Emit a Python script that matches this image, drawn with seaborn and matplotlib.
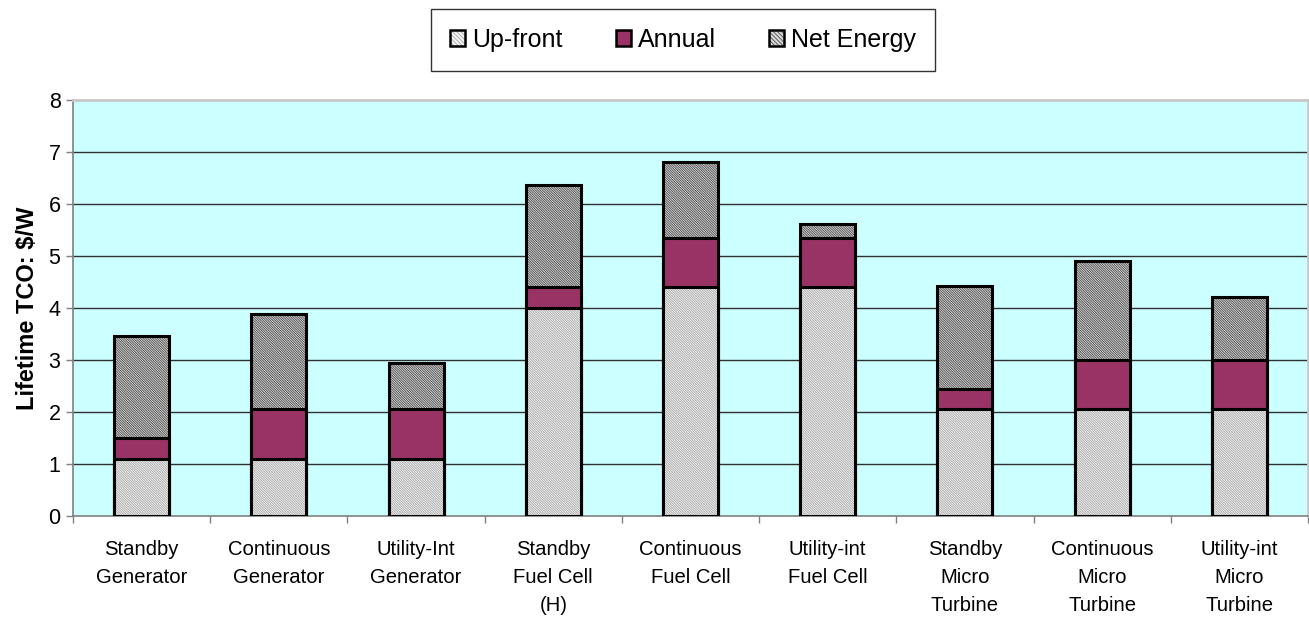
import matplotlib
matplotlib.use("Agg")
import matplotlib.pyplot as plt
import matplotlib.colors as mcolors
import seaborn as sns
import numpy as np
from matplotlib.patches import Patch
from matplotlib.ticker import FixedLocator

categories = ["Standby\nGenerator", "Continuous\nGenerator", "Utility-Int\nGenerator",
              "Standby\nFuel Cell\n(H)", "Continuous\nFuel Cell", "Utility-int\nFuel Cell",
              "Standby\nMicro\nTurbine", "Continuous\nMicro\nTurbine", "Utility-int\nMicro\nTurbine"]
upfront = [1.1, 1.1, 1.1, 4.0, 4.4, 4.4, 2.05, 2.05, 2.05]
annual = [0.4, 0.95, 0.95, 0.4, 0.95, 0.95, 0.4, 0.95, 0.95]
net_energy = [1.97, 1.83, 0.9, 1.97, 1.45, 0.26, 1.97, 1.9, 1.22]
series_names = ["Up-front", "Annual", "Net Energy"]

sns.set_theme(style="white")
plt.rcParams['font.family'] = ['Liberation Sans', 'DejaVu Sans']
plt.rcParams['text.color'] = 'black'
plt.rcParams['axes.labelcolor'] = 'black'

fig = plt.figure(figsize=(13.09, 6.22), dpi=100)
ax = fig.add_axes([73/1309, 1-516/622, (1308-73)/1309, (516-100)/622])
ax.set_facecolor("#CCFFFF")

cum1 = np.array(upfront)
cum2 = cum1 + np.array(annual)
cum3 = cum2 + np.array(net_energy)

HATCH = "\\" * 14
styles = [
    (cum3, "#d6d6d6", HATCH, "#505050"),
    (cum2, "#993366", None, None),
    (cum1, "#f4f4f4", HATCH, "#a8a8a8"),
]
plt.rcParams['hatch.linewidth'] = 0.6
for heights, face, hatch, hc in styles:
    n_before = len(ax.patches)
    sns.barplot(x=categories, y=heights, color=face, saturation=1, width=0.4,
                edgecolor="black", linewidth=2.2, ax=ax, zorder=3)
    for p in ax.patches[n_before:]:
        if hatch:
            p.set_hatch(hatch)
            p._hatch_color = mcolors.to_rgba(hc)

ax.set_ylim(0, 8)
ax.set_xlim(-0.5, len(categories) - 0.5)
ax.set_yticks(range(0, 9))
for y in range(1, 8):
    ax.axhline(y, color="#303030", lw=1, zorder=1)

ax.tick_params(axis='y', which='major', length=5, width=1, color="#808080", direction='out',
               labelsize=15.5, pad=4, left=True, labelcolor='black')
ax.tick_params(axis='x', which='major', length=0, labelsize=14.6, pad=17, labelcolor='black')
ax.xaxis.set_minor_locator(FixedLocator(np.arange(-0.5, len(categories), 1.0)))
ax.tick_params(axis='x', which='minor', length=5, width=1, color="#808080", direction='out', bottom=True)
for lbl in ax.get_xticklabels():
    lbl.set_linespacing(1.6)

for s in ["left", "bottom"]:
    ax.spines[s].set_color("#808080")
    ax.spines[s].set_linewidth(1.2)
for s in ["top", "right"]:
    ax.spines[s].set_color("#c8c8c8")
    ax.spines[s].set_linewidth(2)

ax.set_ylabel("Lifetime TCO: \\$/W", fontsize=17, fontweight='bold', labelpad=7, color='black')

handles = [
    Patch(facecolor="#f4f4f4", edgecolor="black", hatch="\\" * 8, linewidth=1.8),
    Patch(facecolor="#993366", edgecolor="black", linewidth=1.8),
    Patch(facecolor="#d6d6d6", edgecolor="black", hatch="\\" * 8, linewidth=1.8),
]
handles[0]._hatch_color = mcolors.to_rgba("#a8a8a8")
handles[2]._hatch_color = mcolors.to_rgba("#505050")
leg = fig.legend(handles, series_names, loc="center", bbox_to_anchor=(683/1309, 1-40/622),
                 ncol=3, fontsize=18, frameon=True, fancybox=False, edgecolor="black",
                 handlelength=0.6, handleheight=0.6, handletextpad=0.3, columnspacing=2.1,
                 borderpad=0.75, borderaxespad=0)
leg.get_frame().set_linewidth(1)

fig.savefig("out.png", dpi=100)
